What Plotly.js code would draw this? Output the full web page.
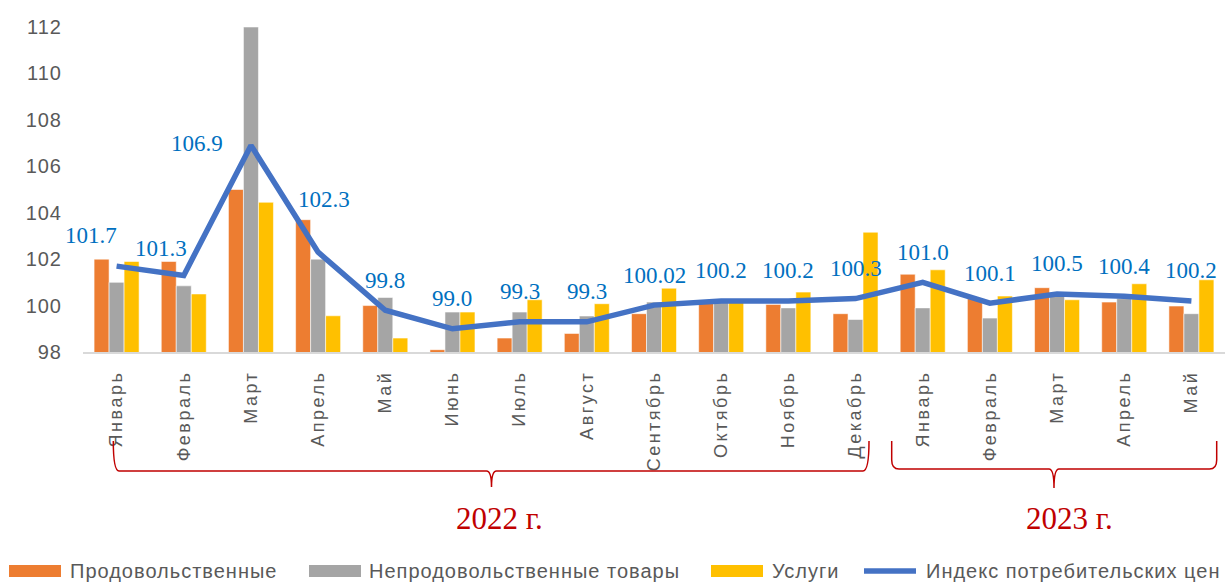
<!DOCTYPE html>
<html><head><meta charset="utf-8">
<script src="https://cdn.plot.ly/plotly-3.0.1.min.js"></script>
<style>
html,body{margin:0;padding:0;background:#fff;}
#chart{width:1232px;height:583px;}
.xtick text{letter-spacing:2.5px;}
.ytick text{letter-spacing:1px;}
</style></head><body><div id="chart"></div>
<script>
// ---- data ----
const months = ["Январь","Февраль","Март","Апрель","Май","Июнь","Июль","Август","Сентябрь","Октябрь","Ноябрь","Декабрь","Январь","Февраль","Март","Апрель","Май"];
const years = ["2022 г.","2023 г."];
const food     = [102.0,101.9,105.0,103.7,100.0,98.1,98.6,98.8,99.65,100.1,100.05,99.65,101.35,100.3,100.77,100.15,99.98];
const nonFood  = [101.0,100.85,112.0,102.0,100.35,99.72,99.72,99.55,100.15,100.2,99.9,99.4,99.9,99.46,100.5,100.3,99.65];
const services = [101.9,100.5,104.45,99.56,98.6,99.72,100.25,100.08,100.75,100.15,100.58,103.16,101.54,100.41,100.25,100.94,101.11];
const cpi      = [101.7,101.3,106.9,102.3,99.8,99.0,99.3,99.3,100.02,100.2,100.2,100.3,101.0,100.1,100.5,100.4,100.2];
const cpiLabels = ["101.7","101.3","106.9","102.3","99.8","99.0","99.3","99.3","100.02","100.2","100.2","100.3","101.0","100.1","100.5","100.4","100.2"];
const seriesNames = ["Продовольственные","Непродовольственные товары","Услуги","Индекс потребительских цен"];
const yTicks = [98,100,102,104,106,108,110,112];

// ---- style ----
const colors = ["#ED7D31","#A5A5A5","#FFC000","#4472C4"];
const xIdx = months.map((_, i) => i);
// label offsets (px) for CPI data labels; default above point
const labelShift = {0:[-26,31],1:[-23,27],2:[-54,2],3:[6,53]};

// plot box in pixels (for paper conversions of decorations)
const L = 83, R = 1225, T = 27, B = 352;
const W = R - L, H = B - T;
const px = v => (v - L) / W;
const py = v => (B - v) / H;

const barLine = {color:"rgba(255,255,255,0.55)", width:1};
const traces = [
  {type:"bar", x:xIdx, y:food, name:seriesNames[0], marker:{color:colors[0], line:barLine}},
  {type:"bar", x:xIdx, y:nonFood, name:seriesNames[1], marker:{color:colors[1], line:barLine}},
  {type:"bar", x:xIdx, y:services, name:seriesNames[2], marker:{color:colors[2], line:barLine}},
  {type:"scatter", mode:"lines", x:xIdx, y:cpi, name:seriesNames[3], line:{color:colors[3], width:5.5}}
];

const annotations = [];
cpi.forEach((v, i) => {
  const s = labelShift[i] || [0, 30];
  annotations.push({x:i, y:v, xref:"x", yref:"y", text:cpiLabels[i], showarrow:false,
    xshift:s[0], yshift:s[1], xanchor:"center", yanchor:"middle",
    font:{family:"Liberation Serif, Times New Roman, serif", size:23, color:"#0070C0"}});
});
// year labels
[[499.5, 518.5], [1069.5, 518.5]].forEach((p, i) => {
  annotations.push({x:px(p[0]), y:py(p[1]), xref:"paper", yref:"paper", text:years[i], showarrow:false,
    xanchor:"center", yanchor:"middle",
    font:{family:"Liberation Serif, Times New Roman, serif", size:31, color:"#C00000"}});
});

// custom legend
const legendItems = [
  {sw:[9,61], tx:68, kind:"rect"},
  {sw:[309,361], tx:367, kind:"rect"},
  {sw:[711,763], tx:770, kind:"rect"},
  {sw:[862,918], tx:924, kind:"line"}
];
const legY = 571;
const shapes = [];
legendItems.forEach((it, i) => {
  if (it.kind === "rect") {
    shapes.push({type:"rect", xref:"paper", yref:"paper", x0:px(it.sw[0]), x1:px(it.sw[1]),
      y0:py(legY-6), y1:py(legY+6), fillcolor:colors[i], line:{width:0}});
  } else {
    shapes.push({type:"line", xref:"paper", yref:"paper", x0:px(it.sw[0]+2), x1:px(it.sw[1]-2),
      y0:py(legY), y1:py(legY), line:{color:colors[i], width:5.5}});
  }
  annotations.push({x:px(it.tx), y:py(legY), xref:"paper", yref:"paper", text:seriesNames[i],
    showarrow:false, xanchor:"left", yanchor:"middle", align:"left",
    font:{family:"Liberation Sans, Arial, sans-serif", size:20, color:"#595959"}});
});

// braces
function toPath(cmds) {
  return cmds.map(c => c[0] + " " + c.slice(1).map((v, k) => (k % 2 === 0 ? px(v) : py(v)).toFixed(5)).join(",")).join(" ");
}
const brace2022 = toPath([
  ["M",113.3,441],["Q",113.3,471,119,471],["L",486.5,471],["Q",491.5,471,491.5,487],
  ["Q",491.5,471,496.5,471],["L",863,471],["Q",869,471,869,441]
]);
const brace2023 = toPath([
  ["M",891.7,441],["L",891.7,460],["Q",891.7,469,899,469],["L",1049,469],["Q",1054,469,1054,488],
  ["Q",1054,469,1059,469],["L",1209.5,469],["Q",1216.7,469,1216.7,460],["L",1216.7,441]
]);
[brace2022, brace2023].forEach(p => shapes.push({type:"path", xref:"paper", yref:"paper", path:p,
  line:{color:"#C00000", width:1.5}}));

const layout = {
  width:1232, height:583,
  margin:{l:L, r:1232-R, t:T, b:583-B, pad:0},
  paper_bgcolor:"#fff", plot_bgcolor:"#fff",
  showlegend:false,
  barmode:"group", bargap:0.33, bargroupgap:0,
  xaxis:{type:"linear", range:[-0.5, months.length-0.5], tickvals:xIdx, ticktext:months,
    tickangle:-90, showgrid:false, zeroline:false, showline:true, linecolor:"#D9D9D9", linewidth:1.5,
    ticks:"", ticklabelstandoff:10,
    tickfont:{family:"Liberation Sans, Arial, sans-serif", size:18, color:"#595959"}},
  yaxis:{range:[98,112], tickvals:yTicks, showgrid:false, zeroline:false, showline:false, ticks:"",
    ticklabelstandoff:20,
    tickfont:{family:"Liberation Sans, Arial, sans-serif", size:20, color:"#595959"}},
  annotations:annotations, shapes:shapes
};

Plotly.newPlot("chart", traces, layout, {staticPlot:true, displayModeBar:false}).then(gd => {
  gd.querySelectorAll(".annotation-text").forEach(t => {
    if (seriesNames.indexOf(t.textContent) >= 0) t.style.letterSpacing = "1px";
  });
});
</script></body></html>
